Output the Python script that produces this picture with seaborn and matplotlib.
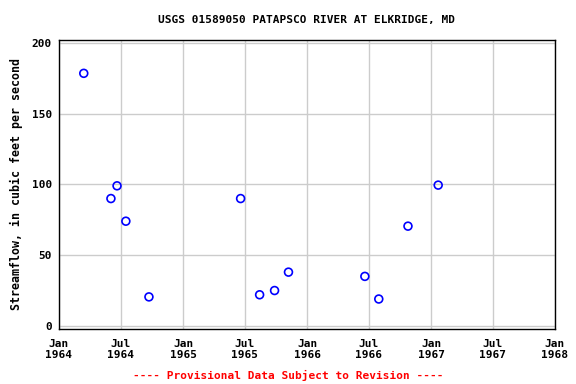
import matplotlib
matplotlib.use('Agg')
import matplotlib.pyplot as plt
import pandas as pd
import seaborn as sns

dates = ['1964-03-14', '1964-06-02', '1964-06-20', '1964-07-16', '1964-09-22',
         '1965-06-19', '1965-08-14', '1965-09-27', '1965-11-07',
         '1966-06-20', '1966-07-31', '1966-10-25', '1967-01-22']
flow = [178.5, 90, 99, 74, 20.5, 90, 22, 25, 38, 35, 19, 70.5, 99.5]

tick_dates = ['1964-01-01', '1964-07-01', '1965-01-01', '1965-07-01', '1966-01-01',
              '1966-07-01', '1967-01-01', '1967-07-01', '1968-01-01']
y_ticks = [0, 50, 100, 150, 200]

sns.set_style('whitegrid')
plt.rcParams['font.family'] = ['DejaVu Sans Mono']
plt.rcParams['font.weight'] = 'bold'
plt.rcParams['text.color'] = 'black'
plt.rcParams['xtick.color'] = 'black'
plt.rcParams['ytick.color'] = 'black'
plt.rcParams['axes.labelcolor'] = 'black'

df = pd.DataFrame({'date': pd.to_datetime(dates), 'flow': flow})

fig = plt.figure(figsize=(5.76, 3.84), dpi=100)
ax = fig.add_axes([0.1024, 0.1432, 0.8611, 0.7539])

sns.scatterplot(data=df, x='date', y='flow', ax=ax, marker='o', s=32,
                facecolor='none', edgecolor='#0000ff', linewidth=1.2, zorder=3)

ticks = pd.to_datetime(tick_dates)
ax.set_xticks(ticks)
ax.set_xticklabels([t.strftime('%b\n%Y') for t in ticks], fontsize=8, fontweight='bold')
ax.set_xlim(ticks[0], ticks[-1])
ax.set_yticks(y_ticks)
ax.set_yticklabels([str(v) for v in y_ticks], fontsize=8, fontweight='bold')
ax.set_ylim(-2.2, 202.4)

ax.grid(True, color='#cccccc', linewidth=1)
ax.tick_params(axis='x', length=0, pad=7)
ax.tick_params(axis='y', length=0, pad=5)
for sp in ax.spines.values():
    sp.set_color('black')
    sp.set_linewidth(1)

ax.set_xlabel('')
ax.set_ylabel('Streamflow, in cubic feet per second', fontsize=8.4, fontweight='bold', labelpad=6)
ax.set_title('USGS 01589050 PATAPSCO RIVER AT ELKRIDGE, MD', fontsize=8,
             fontweight='bold', pad=12)

fig.text(0.5, 0.014, '---- Provisional Data Subject to Revision ----', color='red',
         ha='center', fontsize=8, fontweight='bold')

fig.savefig('out.png', dpi=100)
